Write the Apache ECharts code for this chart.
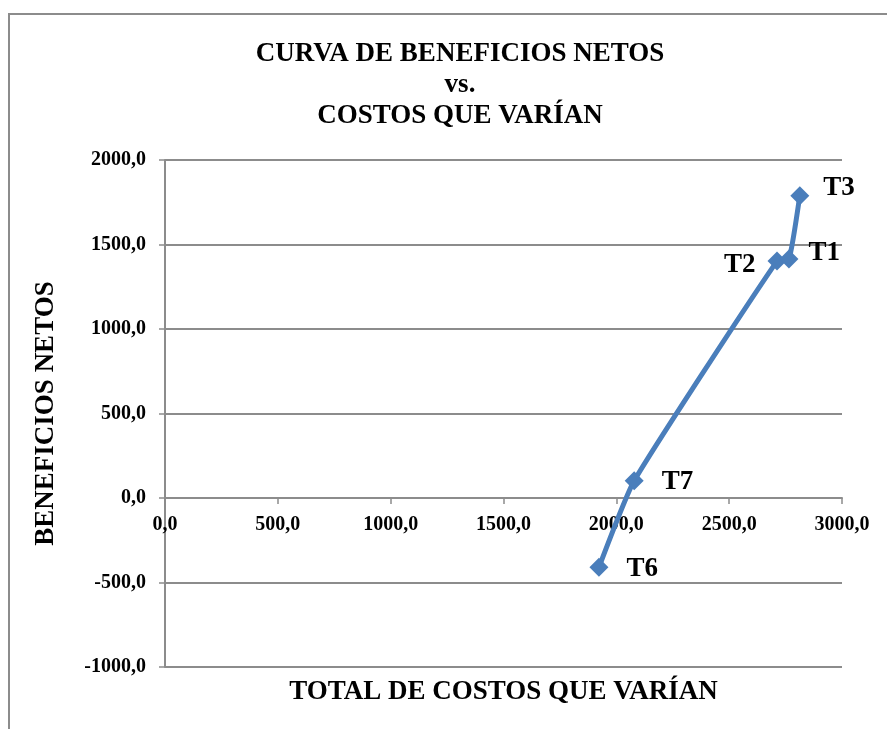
<!DOCTYPE html>
<html>
<head>
<meta charset="utf-8">
<script src="https://cdn.jsdelivr.net/npm/echarts@6/dist/echarts.min.js"></script>
<style>
  html, body { margin: 0; padding: 0; background: #fff; }
  #chart { width: 887px; height: 729px; }
</style>
</head>
<body>
<div id="chart"></div>
<script>
// curva de beneficios netos vs costos que varian
var names = ['T6', 'T7', 'T2', 'T1', 'T3'];
var costs = [1923, 2079, 2712, 2765, 2813];
var benefits = [-410, 102, 1402, 1414, 1789];

var serif = '"Liberation Serif", "Times New Roman", serif';
var grey = '#8c8c8c';
var blue = '#4a7ebb';

// label placement per treatment
var labelStyle = {
  T6: { position: 'right', offset: [6, 2] },
  T7: { position: 'right', offset: [6, 1] },
  T2: { position: 'left', offset: [0, 4] },
  T1: { position: 'right', offset: [-2, -6] },
  T3: { position: 'right', offset: [2, -8] }
};

var points = names.map(function (n, i) {
  return {
    name: n,
    value: [costs[i], benefits[i]],
    label: labelStyle[n]
  };
});

function fmt(v) {
  return v.toFixed(1).replace('.', ',');
}

var chart = echarts.init(document.getElementById('chart'), null, { renderer: 'canvas' });

chart.setOption({
  backgroundColor: '#fff',
  animation: false,
  title: {
    text: 'CURVA DE BENEFICIOS NETOS\nvs.\nCOSTOS QUE VARÍAN',
    left: 455,
    textAlign: 'center',
    top: 34,
    textStyle: {
      fontFamily: serif,
      fontWeight: 'bold',
      fontSize: 27,
      lineHeight: 31,
      color: '#000'
    }
  },
  graphic: [{
    type: 'rect',
    shape: { x: 9, y: 14, width: 900, height: 800 },
    style: { fill: 'none', stroke: grey, lineWidth: 2 },
    silent: true
  }],
  grid: { left: 165, right: 45, top: 160, bottom: 62, outerBoundsMode: 'none', containLabel: false },
  xAxis: {
    type: 'value',
    min: 0,
    max: 3000,
    interval: 500,
    // axis sits on the zero line, one third of the plot height up
    offset: -169,
    name: 'TOTAL DE COSTOS QUE VARÍAN',
    nameLocation: 'middle',
    nameGap: 181,
    nameTextStyle: { fontFamily: serif, fontWeight: 'bold', fontSize: 27, color: '#000' },
    axisLine: { onZero: false, lineStyle: { color: grey, width: 2 } },
    axisTick: { show: true, length: 6, lineStyle: { color: grey, width: 1.5 } },
    axisLabel: {
      formatter: fmt,
      margin: 17,
      fontFamily: serif,
      fontWeight: 'bold',
      fontSize: 20,
      color: '#000'
    },
    splitLine: { show: false }
  },
  yAxis: {
    type: 'value',
    min: -1000,
    max: 2000,
    interval: 500,
    name: 'BENEFICIOS NETOS',
    nameLocation: 'middle',
    nameGap: 105,
    nameTextStyle: { fontFamily: serif, fontWeight: 'bold', fontSize: 27, color: '#000' },
    axisLine: { show: true, onZero: false, lineStyle: { color: grey, width: 2 } },
    axisTick: { show: true, length: 6, lineStyle: { color: grey, width: 1.5 } },
    axisLabel: {
      formatter: fmt,
      margin: 19,
      fontFamily: serif,
      fontWeight: 'bold',
      fontSize: 20,
      color: '#000'
    },
    splitLine: { show: true, lineStyle: { color: grey, width: 2 } }
  },
  series: [{
    type: 'line',
    data: points,
    smooth: 0.15,
    symbol: 'diamond',
    symbolSize: 19,
    itemStyle: { color: blue },
    lineStyle: { color: blue, width: 5 },
    label: {
      show: true,
      formatter: '{b}',
      distance: 12,
      fontFamily: serif,
      fontWeight: 'bold',
      fontSize: 27,
      color: '#000'
    }
  }]
});
</script>
</body>
</html>
